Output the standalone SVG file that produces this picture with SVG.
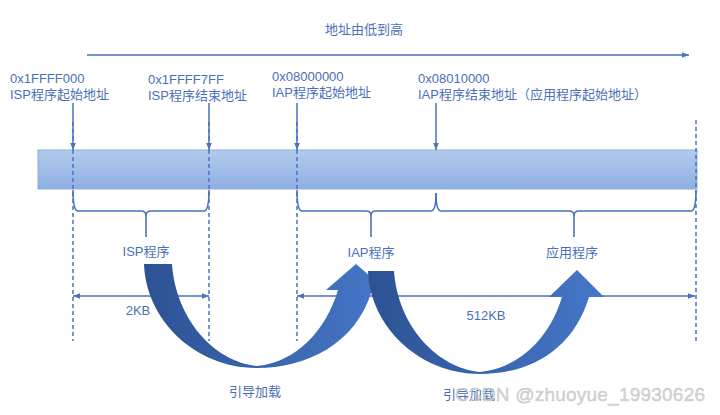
<svg xmlns="http://www.w3.org/2000/svg" width="720" height="415" viewBox="0 0 720 415">
<style>
.t{font-family:"Liberation Sans","Noto Sans CJK SC",sans-serif;font-size:13px;fill:#4a6fb8}
.ln{stroke:#4a72bd;stroke-width:1.5;fill:none}
.dash{stroke:#4a72bd;stroke-width:1.5;fill:none;stroke-dasharray:4 3}
.brace{stroke:#4a72bd;stroke-width:1.6;fill:none}
</style>
<defs>
<linearGradient id="barG" x1="0" y1="0" x2="0" y2="1">
<stop offset="0" stop-color="#b3caec"/>
<stop offset="1" stop-color="#8db0e1"/>
</linearGradient>
<linearGradient id="a1G" gradientUnits="userSpaceOnUse" x1="144" y1="0" x2="386" y2="0">
<stop offset="0" stop-color="#2d5294"/>
<stop offset="1" stop-color="#4677c9"/>
</linearGradient>
<linearGradient id="a2G" gradientUnits="userSpaceOnUse" x1="368" y1="0" x2="604" y2="0">
<stop offset="0" stop-color="#2d5294"/>
<stop offset="1" stop-color="#4677c9"/>
</linearGradient>
<marker id="ah" viewBox="0 0 10 10" refX="10" refY="5" markerWidth="7" markerHeight="7" markerUnits="userSpaceOnUse" orient="auto-start-reverse">
<path d="M0,1 L10,5 L0,9 z" fill="#4a72bd"/>
</marker>
</defs>
<rect width="720" height="415" fill="#ffffff"/>

<g id="title">
<text class="t" x="325" y="34">地址由低到高</text>
</g>

<g id="bar">
<rect x="38" y="150" width="659" height="39" fill="url(#barG)" stroke="#8eaedd" stroke-width="1"/>
</g>

<g id="labels">
<text class="t" x="10" y="83">0x1FFFF000</text>
<text class="t" x="10" y="99">ISP程序起始地址</text>
<text class="t" x="148" y="84">0x1FFFF7FF</text>
<text class="t" x="148" y="100">ISP程序结束地址</text>
<text class="t" x="272" y="81">0x08000000</text>
<text class="t" x="272" y="97">IAP程序起始地址</text>
<text class="t" x="418" y="83">0x08010000</text>
<text class="t" x="418" y="99">IAP程序结束地址（应用程序起始地址）</text>
</g>

<g id="connectors">
<line class="ln" x1="87" y1="55" x2="689" y2="55" marker-end="url(#ah)"/>
<line class="ln" x1="73" y1="103" x2="73" y2="150" marker-end="url(#ah)"/>
<line class="ln" x1="209" y1="103" x2="209" y2="150" marker-end="url(#ah)"/>
<line class="ln" x1="297" y1="103" x2="297" y2="150" marker-end="url(#ah)"/>
<line class="ln" x1="436" y1="103" x2="436" y2="150" marker-end="url(#ah)"/>
<line class="dash" x1="73" y1="122" x2="73" y2="341"/>
<line class="dash" x1="209" y1="122" x2="209" y2="341"/>
<line class="dash" x1="297" y1="122" x2="297" y2="341"/>
<line class="dash" x1="696" y1="120" x2="696" y2="341"/>
<line class="ln" x1="73" y1="296" x2="209" y2="296" marker-start="url(#ah)" marker-end="url(#ah)"/>
<line class="ln" x1="297" y1="296" x2="695" y2="296" marker-start="url(#ah)" marker-end="url(#ah)"/>
</g>

<g id="braces">
<path class="brace" d="M73,190 Q73,211 78,211 L141,211 Q146,211 146,216 L146,237 M146,216 Q146,211 151,211 L204,211 Q209,211 209,190"/>
<path class="brace" d="M297,190 Q297,211 302,211 L366,211 Q371,211 371,216 L371,237 M371,216 Q371,211 376,211 L431,211 Q436,211 436,193"/>
<path class="brace" d="M436,193 Q436,211 441,211 L569,211 Q574,211 574,216 L574,237 M574,216 Q574,211 579,211 L691,211 Q696,211 696,190"/>
</g>

<g id="section-labels">
<text class="t" x="146" y="256" text-anchor="middle">ISP程序</text>
<text class="t" x="371" y="257" text-anchor="middle">IAP程序</text>
<text class="t" x="572" y="257" text-anchor="middle">应用程序</text>
<text class="t" x="138" y="315" text-anchor="middle">2KB</text>
<text class="t" x="486" y="320" text-anchor="middle">512KB</text>
</g>

<g id="load-arrow-1">
<path d="M144,264 L172,264 C176,320 215,362 257,366 C297,362 326,330 338,290 L326,290 L356,264 L386,290 L372,290 C356,345 305,368 257,368 C195,368 146,320 144,264 Z" fill="url(#a1G)"/>
</g>
<g id="load-arrow-2">
<path d="M368,271 L394,271 C398,327 438,368 480,372 C520,368 550,337 562,297 L549,297 L577,270 L604,297 L589,297 C573,350 530,374 480,374 C420,374 370,327 368,271 Z" fill="url(#a2G)"/>
</g>

<g id="load-labels">
<text class="t" x="229" y="396">引导加载</text>
<text class="t" x="443" y="399">引导加载</text>
</g>

<g id="watermark">
<text x="455" y="401" font-family="Liberation Sans, Arial, sans-serif" font-size="19" fill="#d4d4d4" fill-opacity="0.85" stroke="#9a9a9a" stroke-opacity="0.5" stroke-width="0.5" textLength="250">CSDN @zhuoyue_19930626</text>
</g>
</svg>
